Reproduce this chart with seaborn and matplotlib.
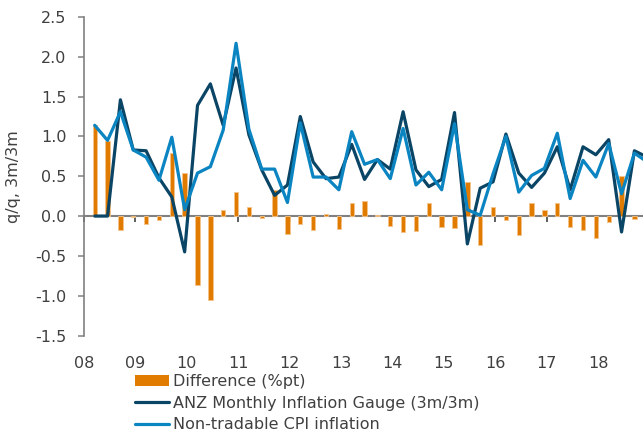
import matplotlib.pyplot as plt
import numpy as np
import pandas as pd
import seaborn as sns
from matplotlib.patches import Patch
from matplotlib.lines import Line2D

# quarterly data, 2008Q1 - 2018Q4
quarters = pd.period_range("2008Q1", "2018Q4", freq="Q")

anz_gauge = [0.00, 0.00, 1.46, 0.83, 0.82, 0.48, 0.24, -0.45,
             1.39, 1.66, 1.14, 1.86, 1.02, 0.58, 0.26, 0.39,
             1.25, 0.68, 0.47, 0.49, 0.90, 0.46, 0.71, 0.59,
             1.31, 0.58, 0.37, 0.46, 1.30, -0.35, 0.35, 0.43,
             1.03, 0.54, 0.36, 0.54, 0.87, 0.33, 0.87, 0.77,
             0.96, -0.20, 0.82, 0.74]
non_tradable = [1.14, 0.95, 1.31, 0.83, 0.74, 0.45, 0.99, 0.08,
                0.54, 0.62, 1.08, 2.17, 1.09, 0.59, 0.59, 0.17,
                1.17, 0.49, 0.49, 0.33, 1.06, 0.65, 0.71, 0.47,
                1.10, 0.39, 0.55, 0.33, 1.16, 0.08, 0.01, 0.53,
                1.00, 0.30, 0.51, 0.60, 1.04, 0.22, 0.70, 0.49,
                0.91, 0.28, 0.79, 0.68]
difference = [1.14, 0.94, -0.17, -0.01, -0.10, -0.05, 0.79, 0.54,
              -0.87, -1.05, 0.07, 0.30, 0.11, -0.03, 0.33, -0.22,
              -0.10, -0.18, 0.03, -0.16, 0.16, 0.19, 0.01, -0.12,
              -0.20, -0.19, 0.17, -0.14, -0.15, 0.43, -0.36, 0.11,
              -0.05, -0.24, 0.16, 0.08, 0.16, -0.14, -0.17, -0.27,
              -0.08, 0.50, -0.04, -0.06]

year_ticks = list(range(2008, 2019))
year_labels = [f"{y % 100:02d}" for y in year_ticks]
y_ticks = [-1.5, -1.0, -0.5, 0.0, 0.5, 1.0, 1.5, 2.0, 2.5]

ORANGE = "#e07b00"
DARK = "#0b4566"
LIGHT = "#0a85c2"
TEXT = "#404040"

# x position = middle of the last month of each quarter, in fractional years
xq = np.round(quarters.year + (quarters.quarter * 3 - 0.5) / 12, 4)
df = pd.DataFrame({"x": xq, "anz": anz_gauge, "nt": non_tradable, "diff": difference})

sns.set_style("white")
plt.rcParams["font.family"] = ["DejaVu Sans"]

fig = plt.figure(figsize=(6.43, 4.34), dpi=100)
ax = fig.add_axes([84 / 643, 1 - 335.5 / 434, 1 - 84 / 643, (335.5 - 17) / 434])

sns.barplot(data=df, x="x", y="diff", native_scale=True, width=0.34, errorbar=None,
            color=ORANGE, edgecolor="#f3c48a", linewidth=0.6, saturation=1, ax=ax, zorder=2)
sns.lineplot(data=df, x="x", y="anz", color=DARK, lw=2.3, ax=ax, zorder=3)
sns.lineplot(data=df, x="x", y="nt", color=LIGHT, lw=2.3, ax=ax, zorder=4)

ax.set_xlim(2008, 2008 + 559 / 51.4)
ax.set_ylim(-1.5, 2.5)
ax.set_yticks(y_ticks)
ax.set_yticklabels([f"{v:.1f}" for v in y_ticks])
ax.set_xticks(year_ticks)
ax.set_xticklabels(year_labels)
ax.set_xlabel("")
ax.set_ylabel("q/q, 3m/3m", fontsize=11.5, color=TEXT, labelpad=10)

for s in ["top", "right"]:
    ax.spines[s].set_visible(False)
ax.spines["left"].set_color("#808080")
ax.spines["left"].set_linewidth(1.2)
ax.spines["bottom"].set_position(("data", 0))
ax.spines["bottom"].set_color("#808080")
ax.spines["bottom"].set_linewidth(1.5)
ax.spines["bottom"].set_zorder(1)

ax.tick_params(axis="y", direction="out", length=4.5, width=1.1, color="#808080",
               labelsize=11.5, labelcolor=TEXT, pad=8, left=True)
ax.tick_params(axis="x", direction="out", length=4.5, width=1.1, color="#333333",
               labelsize=11.5, labelcolor=TEXT, pad=96, bottom=True)

handles = [Patch(facecolor=ORANGE, edgecolor="none"),
           Line2D([], [], color=DARK, lw=2.3),
           Line2D([], [], color=LIGHT, lw=2.3)]
labels = ["Difference (%pt)", "ANZ Monthly Inflation Gauge (3m/3m)", "Non-tradable CPI inflation"]
fig.legend(handles, labels, loc="upper left", bbox_to_anchor=(135 / 643, 1 - 374 / 434),
           frameon=False, fontsize=11.5, labelcolor=TEXT, handlelength=2.1,
           handletextpad=0.25, labelspacing=0.42, borderpad=0, borderaxespad=0)

fig.savefig("out.png", dpi=100)
